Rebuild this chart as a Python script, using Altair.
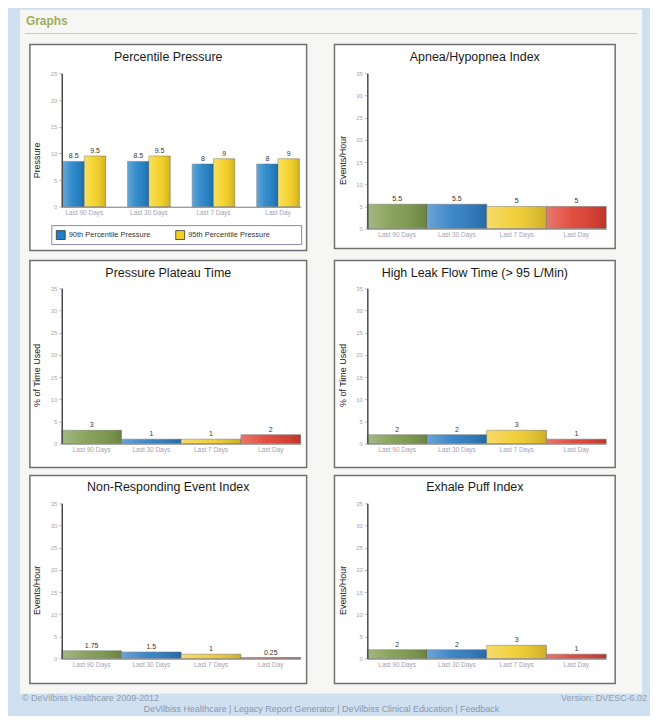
import altair as alt
import pandas as pd

# ---------------- data ----------------
categories = ["Last 90 Days", "Last 30 Days", "Last 7 Days", "Last Day"]
pct_series = ["90th Percentile Pressure", "95th Percentile Pressure"]
pct_90 = [8.5, 8.5, 8, 8]
pct_95 = [9.5, 9.5, 9, 9]
apnea = [5.5, 5.5, 5, 5]
plateau = [3, 1, 1, 2]
high_leak = [2, 2, 3, 1]
non_responding = [1.75, 1.5, 1, 0.25]
exhale_puff = [2, 2, 3, 1]

panel_titles = ["Percentile Pressure", "Apnea/Hypopnea Index", "Pressure Plateau Time",
                "High Leak Flow Time (> 95 L/Min)", "Non-Responding Event Index", "Exhale Puff Index"]
y_titles = ["Pressure", "Events/Hour", "% of Time Used", "% of Time Used", "Events/Hour", "Events/Hour"]
pct_ticks = [0, 5, 10, 15, 20, 25]
idx_ticks = [0, 5, 10, 15, 20, 25, 30, 35]
header_text = "Graphs"
footer_left = "\u00a9 DeVilbiss Healthcare 2009-2012"
footer_right = "Version: DVESC-6.02"
footer_links = "DeVilbiss Healthcare  |  Legacy Report Generator  |  DeVilbiss Clinical Education  |  Feedback"

# ---------------- style ----------------
FONT = "Liberation Sans"
BLUE_BG = "#cfe0f1"
PANEL_BG = "#f6f7f4"
FRAME = "#707070"
bar_colors = ["#7d9a4c", "#2b7bc2", "#f1cc2c", "#de3d2e"]
pct_colors = ["#1f80c7", "#f5d11f"]
W, H, H1 = 240, 156, 134

SHADE = {"gradient": "linear", "x1": 0, "y1": 0, "x2": 1, "y2": 0,
         "stops": [{"offset": 0, "color": "rgba(255,255,255,0.30)"},
                   {"offset": 0.45, "color": "rgba(255,255,255,0.08)"},
                   {"offset": 1, "color": "rgba(0,0,0,0.15)"}]}

one = pd.DataFrame({"k": [0]})


def box(x, x2, y, y2, **kw):
    return alt.Chart(one).mark_rect(**kw).encode(
        x=alt.value(x), x2=alt.value(x2), y=alt.value(y), y2=alt.value(y2))


def hline(x, x2, y, **kw):
    return alt.Chart(one).mark_rule(**kw).encode(x=alt.value(x), x2=alt.value(x2), y=alt.value(y))


def note(text, x, y, **kw):
    return alt.Chart(pd.DataFrame({"t": [text]})).mark_text(font=FONT, **kw).encode(
        x=alt.value(x), y=alt.value(y), text="t:N")


def y_axis(title, ticks):
    return alt.Axis(values=ticks, title=title, titleFont=FONT, titleFontSize=9,
                    titleFontWeight="normal", titleColor="#222", titleX=-20, titleY=87,
                    labelFont=FONT, labelFontSize=6, labelColor="#a8a8a8", labelPadding=2,
                    tickSize=3, tickColor="#aaaaaa", tickWidth=0.8,
                    domainColor="#4a4a4a", domainWidth=1.5, grid=False, zindex=1)


X_AXIS = alt.Axis(title=None, labelAngle=0, labelFont=FONT, labelFontSize=6.5,
                  labelColor="#a3a3b3", labelPadding=3, ticks=False,
                  domainColor="#777777", domainWidth=1, grid=False, zindex=1)

# geometry of each cell relative to its plot area (later cells overlap earlier by 1px)
COLS = [dict(bg=(-42, 258), frame=(-32, 246), tx=107),
        dict(bg=(-50, 276), frame=(-33, 249), tx=108)]
ROWS = [dict(bg=(-64, 183), frame=[(-29, 178), (-29, 176)], ty=-16),
        dict(bg=(-34, 184), frame=[(-28, 180), (-28, 180)], ty=-15),
        dict(bg=(-33, 191), frame=[(-28, 181), (-28, 181)], ty=-16)]


def decorations(i):
    r, c = divmod(i, 2)
    col, row = COLS[c], ROWS[r]
    fy = row["frame"][c]
    layers = [
        box(col["bg"][0], col["bg"][1], row["bg"][0], row["bg"][1], color=PANEL_BG),
        box(col["frame"][0], col["frame"][1], fy[0], fy[1], fill="white", stroke=FRAME, strokeWidth=1.5),
        note(panel_titles[i], col["tx"], row["ty"], fontSize=12.5, color="#1a1a1a", baseline="middle"),
    ]
    if r == 0:
        layers.append(hline(col["bg"][0] + (5 if c == 0 else 0), col["bg"][1] - (0 if c == 0 else 5), -40,
                            color="#cfc7b6", strokeWidth=1))
        if c == 0:
            layers.append(note(header_text, -36, -53, fontSize=12, fontWeight="bold",
                               color="#9fad5a", align="left", baseline="middle"))
    if r == 2:
        if c == 0:
            layers.append(note(footer_left, -40, 196, fontSize=9, color="#929db0",
                               align="left", baseline="middle"))
            layers.append(note(footer_links, 261, 207, fontSize=9, color="#8a97aa",
                               align="center", baseline="middle"))
        else:
            layers.append(note(footer_right, 281, 196, fontSize=9, color="#929db0",
                               align="right", baseline="middle"))
    return layers


def single_panel(i, values):
    df = pd.DataFrame({"period": categories, "value": values})
    xenc = alt.X("period:N", sort=categories, axis=X_AXIS,
                 scale=alt.Scale(paddingInner=0, paddingOuter=0))
    yenc = alt.Y("value:Q", axis=y_axis(y_titles[i], idx_ticks),
                 scale=alt.Scale(domain=[0, 35], nice=False))
    bars = alt.Chart(df).mark_bar(stroke="#6d6d6d", strokeWidth=0.5).encode(
        x=xenc, y=yenc,
        color=alt.Color("period:N", sort=categories,
                        scale=alt.Scale(domain=categories, range=bar_colors), legend=None))
    shade = alt.Chart(df).mark_bar(color=SHADE).encode(x=xenc, y=yenc)
    labels = alt.Chart(df).mark_text(dy=-5, font=FONT, fontSize=7, color="#333").encode(
        x=xenc, y=yenc, text="value:N")
    return alt.layer(*decorations(i), bars, shade, labels).properties(width=W, height=H)


def percentile_panel():
    rows = []
    for p, a, b in zip(categories, pct_90, pct_95):
        rows.append({"period": p, "series": pct_series[0], "value": a})
        rows.append({"period": p, "series": pct_series[1], "value": b})
    df = pd.DataFrame(rows)
    xenc = alt.X("period:N", sort=categories, axis=X_AXIS,
                 scale=alt.Scale(paddingInner=0.34, paddingOuter=0.02))
    xoff = alt.XOffset("series:N", sort=pct_series, scale=alt.Scale(paddingInner=0, paddingOuter=0))
    yenc = alt.Y("value:Q", axis=y_axis(y_titles[0], pct_ticks),
                 scale=alt.Scale(domain=[0, 25], nice=False))
    legend = alt.Legend(orient="none", legendX=-6, legendY=157, direction="horizontal", title=None,
                        symbolType="square", symbolSize=80, symbolStrokeColor="#333",
                        symbolStrokeWidth=0.8, labelFont=FONT, labelFontSize=7.5, labelColor="#333",
                        labelOffset=3, columnPadding=22, padding=0)
    bars = alt.Chart(df).mark_bar(stroke="#6d6d6d", strokeWidth=0.5).encode(
        x=xenc, xOffset=xoff, y=yenc,
        color=alt.Color("series:N", sort=pct_series,
                        scale=alt.Scale(domain=pct_series, range=pct_colors), legend=legend))
    shade = alt.Chart(df).mark_bar(color=SHADE).encode(x=xenc, xOffset=xoff, y=yenc)
    labels = alt.Chart(df).mark_text(dy=-5, font=FONT, fontSize=7, color="#333").encode(
        x=xenc, xOffset=xoff, y=yenc, text="value:N")
    legend_box = box(-10, 241, 153, 172, fill="white", stroke="#8e86ae", strokeWidth=1)
    return alt.layer(*decorations(0), legend_box, bars, shade, labels).properties(width=W, height=H1)


cells = [percentile_panel(),
         single_panel(1, apnea),
         single_panel(2, plateau),
         single_panel(3, high_leak),
         single_panel(4, non_responding),
         single_panel(5, exhale_puff)]

chart = alt.concat(*cells, columns=2, spacing={"row": 60, "column": 67},
                   bounds="flush", align="each").resolve_scale(
    x="independent", y="independent", color="independent"
).properties(
    padding={"left": 12, "top": 0, "right": 3, "bottom": 0},
    background=BLUE_BG,
).configure_view(stroke=None)

chart.save("out.html", embed_options={"renderer": "svg", "actions": False})
